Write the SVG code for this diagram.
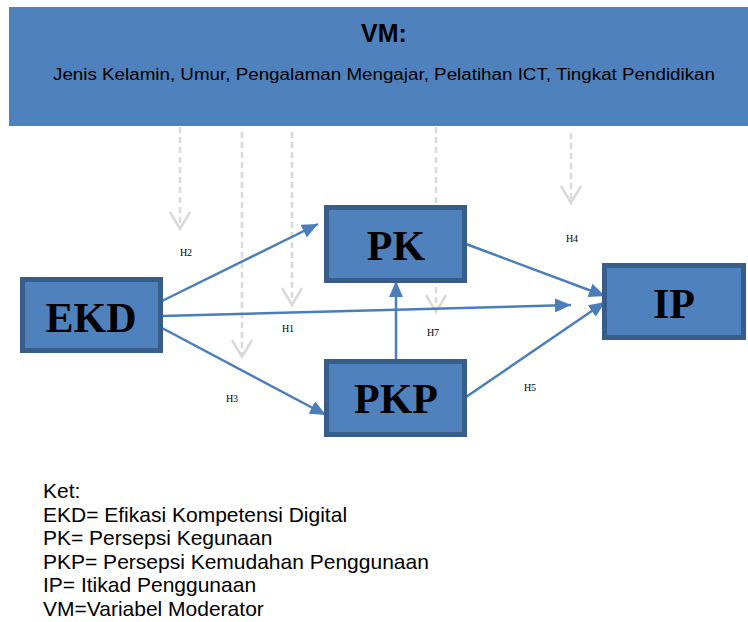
<svg xmlns="http://www.w3.org/2000/svg" width="748" height="622" viewBox="0 0 748 622">
<style>
.node{fill:#4f81bd;stroke:#385d8a;stroke-width:5}
.nt{font-family:"Liberation Serif","Times New Roman",serif;font-weight:bold;font-size:42px;fill:#000;text-anchor:middle}
.lbl{font-family:"Liberation Serif","Times New Roman",serif;font-size:10px;fill:#000;text-anchor:middle}
.conn{stroke:#4a7ebb;stroke-width:2.5;fill:none;marker-end:url(#ah)}
.mod{stroke:#d9d9d9;stroke-width:2.5;stroke-dasharray:6 4;fill:none}
.modh{stroke:#d9d9d9;stroke-width:2.5;fill:none}
.leg{font-family:"Liberation Sans",Arial,sans-serif;font-size:21px;fill:#000}
</style>
<defs>
<marker id="ah" markerUnits="userSpaceOnUse" markerWidth="18" markerHeight="14" refX="16" refY="7" orient="auto" viewBox="0 0 18 14">
<path d="M0,0 L16,7 L0,14 z" fill="#4a7ebb"/>
</marker>
</defs>
<g id="vm">
<rect x="9" y="7" width="739" height="119" fill="#4f81bd"/>
<text x="384" y="42" font-family="'Liberation Sans',Arial,sans-serif" font-weight="bold" font-size="25" text-anchor="middle">VM:</text>
<text x="384" y="80" font-family="'Liberation Sans',Arial,sans-serif" font-size="16" text-anchor="middle" textLength="662" lengthAdjust="spacingAndGlyphs">Jenis Kelamin, Umur, Pengalaman Mengajar, Pelatihan ICT, Tingkat Pendidikan</text>
</g>
<g id="moderators">
<path class="mod" d="M180,127 V228"/>
<path class="modh" d="M170,212 L180,229 L190,212"/>
<path class="mod" d="M242,132 V356"/>
<path class="modh" d="M232,340 L242,357 L252,340"/>
<path class="mod" d="M292,132 V304"/>
<path class="modh" d="M282,288 L292,305 L302,288"/>
<path class="mod" d="M436,127 V311"/>
<path class="modh" d="M426,295 L436,312 L446,295"/>
<path class="mod" d="M571,133 V202"/>
<path class="modh" d="M561,186 L571,203 L581,186"/>
</g>
<g id="connectors">
<path class="conn" d="M162,301 L318,224"/>
<path class="conn" d="M162,316 L571,305"/>
<path class="conn" d="M162,328 L326,415"/>
<path class="conn" d="M396,360 L396,281"/>
<path class="conn" d="M466,244 L605,296"/>
<path class="conn" d="M466,397 L605,302"/>
</g>
<g id="labels">
<text class="lbl" x="186" y="256">H2</text>
<text class="lbl" x="288" y="332">H1</text>
<text class="lbl" x="433" y="336">H7</text>
<text class="lbl" x="232" y="402">H3</text>
<text class="lbl" x="572" y="242">H4</text>
<text class="lbl" x="530" y="391">H5</text>
</g>
<g id="EKD">
<rect class="node" x="22.5" y="279.5" width="138" height="71"/>
<text class="nt" x="91" y="332">EKD</text>
</g>
<g id="PK">
<rect class="node" x="326.5" y="207.5" width="138" height="73"/>
<text class="nt" x="396" y="260">PK</text>
</g>
<g id="PKP">
<rect class="node" x="326.5" y="361.5" width="138" height="73"/>
<text class="nt" x="396" y="413">PKP</text>
</g>
<g id="IP">
<rect class="node" x="604.5" y="265.5" width="139" height="72"/>
<text class="nt" x="674" y="318">IP</text>
</g>
<g id="legend">
<text class="leg" x="43" y="498">Ket:</text>
<text class="leg" x="43" y="521.5">EKD= Efikasi Kompetensi Digital</text>
<text class="leg" x="43" y="545">PK= Persepsi Kegunaan</text>
<text class="leg" x="43" y="568.5">PKP= Persepsi Kemudahan Penggunaan</text>
<text class="leg" x="43" y="592">IP= Itikad Penggunaan</text>
<text class="leg" x="43" y="615.5">VM=Variabel Moderator</text>
</g>
</svg>
